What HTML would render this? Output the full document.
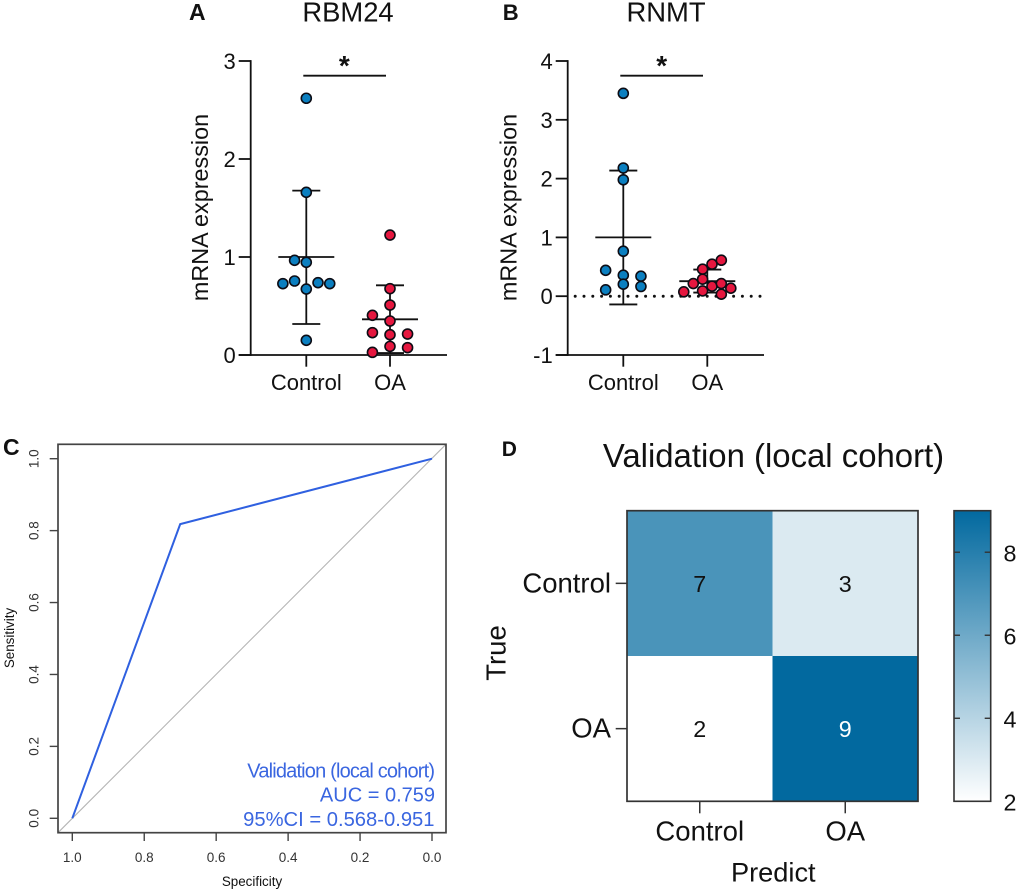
<!DOCTYPE html>
<html lang="en">
<head>
<meta charset="utf-8">
<title>RBM24 and RNMT expression with validation ROC and confusion matrix</title>
<style>
html,body{margin:0;padding:0;background:#fff;}
svg{display:block;}
text{font-family:"Liberation Sans",Arial,sans-serif;fill:#111;}
</style>
</head>
<body>
<svg id="fig" xmlns="http://www.w3.org/2000/svg" width="1020" height="894" viewBox="0 0 1020 894">
  <rect width="1020" height="894" fill="#fff"/>

  <g id="panelA">
    <text x="189" y="20" font-size="23" font-weight="bold">A</text>
    <text x="348" y="21.5" font-size="27.4" text-anchor="middle">RBM24</text>
    <text transform="translate(208,207.5) rotate(-90)" font-size="23.4" text-anchor="middle">mRNA expression</text>
    <line x1="303.3" x2="386" y1="75.7" y2="75.7" stroke="#111" stroke-width="1.8"/>
    <text x="344.3" y="75" font-size="28" text-anchor="middle" font-weight="bold">*</text>
  </g>

  <g id="panelB">
    <text x="502.7" y="20" font-size="22" font-weight="bold">B</text>
    <text x="666" y="21.5" font-size="27.4" text-anchor="middle">RNMT</text>
    <text transform="translate(516.7,207.5) rotate(-90)" font-size="23.4" text-anchor="middle">mRNA expression</text>
    <line x1="620.3" x2="703" y1="75.7" y2="75.7" stroke="#111" stroke-width="1.8"/>
    <text x="661.7" y="75" font-size="28" text-anchor="middle" font-weight="bold">*</text>
  </g>

  <g id="panelC">
    <text x="3" y="455" font-size="23" font-weight="bold">C</text>
    <text x="252" y="886" font-size="13.4" fill="#222" text-anchor="middle">Specificity</text>
    <text transform="translate(14,638) rotate(-90)" font-size="13.4" text-anchor="middle">Sensitivity</text>
    <text x="435" y="777.3" font-size="20" text-anchor="end" style="fill:#3a66e0" textLength="187.7" lengthAdjust="spacing">Validation (local cohort)</text>
    <text x="435" y="801.7" font-size="20" text-anchor="end" style="fill:#3a66e0">AUC = 0.759</text>
    <text x="434.5" y="826" font-size="20.2" text-anchor="end" style="fill:#3a66e0">95%CI = 0.568-0.951</text>
  </g>

  <g id="panelD">
    <text x="501.7" y="456" font-size="21" font-weight="bold">D</text>
    <text x="773.5" y="467" font-size="32.9" text-anchor="middle">Validation (local cohort)</text>
    <text x="773.3" y="881.7" font-size="27.2" text-anchor="middle">Predict</text>
    <text transform="translate(505.7,653) rotate(-90)" font-size="27.5" text-anchor="middle">True</text>
  </g>
</svg>

<script>
// Panel A: RBM24
const rbmControlValues = [2.62, 1.66, 0.966, 0.946, 0.728, 0.755, 0.673, 0.738, 0.728, 0.15];
const rbmControlJitter = [0, 0, -0.14, 0, -0.28, -0.14, 0, 0.14, 0.28, 0];
const rbmOaValues = [1.224, 0.677, 0.51, 0.405, 0.347, 0.228, 0.207, 0.214, 0.088, 0.075, 0.027];
const rbmOaJitter = [0, 0, 0, -0.21, 0, -0.21, 0, 0.21, 0, 0.21, -0.21];
const rbmMeans = [1.0, 0.364];
const rbmUpper = [1.677, 0.711];
const rbmLower = [0.316, 0.02];
const rbmTicks = [0, 1, 2, 3];

// Panel B: RNMT
const rnmtControlValues = [3.45, 2.18, 1.98, 0.765, 0.44, 0.357, 0.34, 0.204, 0.165, 0.108];
const rnmtControlJitter = [0, 0, 0, 0, -0.21, 0, 0.21, 0, 0.21, -0.21];
const rnmtOaValues = [0.074, 0.215, 0.459, 0.289, 0.09, 0.544, 0.17, 0.612, 0.215, 0.034, 0.136];
const rnmtOaJitter = [-0.28, -0.167, -0.056, -0.056, -0.056, 0.056, 0.056, 0.167, 0.167, 0.167, 0.28];
const rnmtMeans = [1.0, 0.255];
const rnmtUpper = [2.137, 0.453];
const rnmtLower = [-0.14, 0.062];
const rnmtTicks = [-1, 0, 1, 2, 3, 4];

const groupLabels = ['Control', 'OA'];

// Panel C: ROC
const rocSpecificity = [1.0, 0.7, 0.0];
const rocSensitivity = [0.0, 0.818, 1.0];
const rocTicks = [0, 0.2, 0.4, 0.6, 0.8, 1.0];

// Panel D: confusion matrix
const confusionRows = ['Control', 'OA'];
const confusionCols = ['Control', 'OA'];
const confusionCounts = [[7, 3], [2, 9]];
const colorbarTicks = [2, 4, 6, 8];
const colorMin = 2;
const colorMax = 9;

const NS = 'http://www.w3.org/2000/svg';
function make(tag, attrs, parent, txt) {
  const el = document.createElementNS(NS, tag);
  for (const k in attrs) el.setAttribute(k, attrs[k]);
  if (txt !== undefined) el.textContent = txt;
  parent.appendChild(el);
  return el;
}
function linear(d0, d1, r0, r1) {
  return function (v) { return r0 + (v - d0) * (r1 - r0) / (d1 - d0); };
}

function drawScatter(opts) {
  const g = document.getElementById(opts.group);
  const p = opts.prefix;
  const y = linear(opts.domain[0], opts.domain[1], 355, 61);
  const xc = linear(0, 1, opts.x0, opts.x1);
  const step = opts.x1 - opts.x0;
  const ink = '#111';
  const sw = 1.8;

  if (opts.baseline) {
    const dots = make('line', {x1: opts.axisX + 7.5, x2: opts.axisEnd, y1: y(0), y2: y(0), stroke: ink, 'stroke-width': 3, 'stroke-linecap': 'round', 'stroke-dasharray': '0 8.8'}, g);
    
    
  }

  const yAxis = make('line', {x1: opts.axisX, x2: opts.axisX, y1: 60.1, y2: 355.9, stroke: ink, 'stroke-width': sw}, g);
  
  

  const xAxis = make('line', {x1: opts.axisX - 12, x2: opts.axisEnd, y1: 355, y2: 355, stroke: ink, 'stroke-width': sw}, g);
  
  

  opts.ticks.forEach(function (t) {
    const tick = make('line', {x1: opts.axisX - 12, x2: opts.axisX, y1: y(t), y2: y(t), stroke: ink, 'stroke-width': sw}, g);
    
    
    const lab = make('text', {x: opts.axisX - 15, y: y(t) + 8, 'font-size': 22, 'text-anchor': 'end'}, g, String(t));
    
    
  });

  groupLabels.forEach(function (name, i) {
    const tick = make('line', {x1: xc(i), x2: xc(i), y1: 355, y2: 366.7, stroke: ink, 'stroke-width': sw}, g);
    
    
    const lab = make('text', {x: xc(i), y: 390, 'font-size': 22, 'text-anchor': 'middle'}, g, name);
    
    

    const stem = make('line', {x1: xc(i), x2: xc(i), y1: y(opts.upper[i]), y2: y(opts.lower[i]), stroke: ink, 'stroke-width': sw}, g);
    
    

    const mean = make('line', {x1: xc(i) - 28, x2: xc(i) + 28, y1: y(opts.means[i]), y2: y(opts.means[i]), stroke: ink, 'stroke-width': sw}, g);
    
    

    const capU = make('line', {x1: xc(i) - 14, x2: xc(i) + 14, y1: y(opts.upper[i]), y2: y(opts.upper[i]), stroke: ink, 'stroke-width': sw}, g);
    
    

    const capL = make('line', {x1: xc(i) - 14, x2: xc(i) + 14, y1: y(opts.lower[i]), y2: y(opts.lower[i]), stroke: ink, 'stroke-width': sw}, g);
    
    
  });

  opts.control.forEach(function (v, i) {
    const c = make('circle', {cx: xc(0) + opts.controlJitter[i] * step, cy: y(v), r: 5, fill: '#0b7fc0', stroke: '#0c0c14', 'stroke-width': 1.6}, g);
    
    
  });
  opts.oa.forEach(function (v, i) {
    const c = make('circle', {cx: xc(1) + opts.oaJitter[i] * step, cy: y(v), r: 5, fill: '#e5173f', stroke: '#0c0c14', 'stroke-width': 1.6}, g);
    
    
  });
}

drawScatter({group: 'panelA', prefix: 'rbm24', domain: [0, 3], axisX: 250.7, axisEnd: 447, x0: 306.3, x1: 390,
  ticks: rbmTicks, control: rbmControlValues, controlJitter: rbmControlJitter, oa: rbmOaValues, oaJitter: rbmOaJitter,
  means: rbmMeans, upper: rbmUpper, lower: rbmLower, baseline: false});

drawScatter({group: 'panelB', prefix: 'rnmt', domain: [-1, 4], axisX: 567.7, axisEnd: 764, x0: 623.3, x1: 707.3,
  ticks: rnmtTicks, control: rnmtControlValues, controlJitter: rnmtControlJitter, oa: rnmtOaValues, oaJitter: rnmtOaJitter,
  means: rnmtMeans, upper: rnmtUpper, lower: rnmtLower, baseline: true});

// ROC panel
(function () {
  const g = document.getElementById('panelC');
  const x = linear(1, 0, 72.3, 432);
  const y = linear(0, 1, 818.3, 458.7);
  const ink = '#444';

  const diag = make('line', {x1: 58, y1: 832.7, x2: 446, y2: 444.3, stroke: '#b5b5b5', 'stroke-width': 1.1}, g);
  
  

  const pts = rocSpecificity.map(function (s, i) { return x(s) + ',' + y(rocSensitivity[i]); }).join(' ');
  const curve = make('polyline', {points: pts, fill: 'none', stroke: '#2f60e0', 'stroke-width': 2}, g);
  
  

  const box = make('rect', {x: 58, y: 444.3, width: 388, height: 388.4, fill: 'none', stroke: ink, 'stroke-width': 1.7}, g);
  
  

  rocTicks.forEach(function (t) {
    const tx = make('line', {x1: x(t), x2: x(t), y1: 832.7, y2: 841, stroke: ink, 'stroke-width': 1.4}, g);
    
    
    const lx = make('text', {x: x(t), y: 862, 'font-size': 13.5, 'text-anchor': 'middle', style: 'fill:#333'}, g, t.toFixed(1));
    
    
    const ty = make('line', {x1: 49.7, x2: 58, y1: y(t), y2: y(t), stroke: ink, 'stroke-width': 1.4}, g);
    
    
    const ly = make('text', {transform: 'translate(38.3,' + y(t) + ') rotate(-90)', 'font-size': 13.5, 'text-anchor': 'middle', style: 'fill:#333'}, g, t.toFixed(1));
    
    
  });
})();

// Confusion matrix panel
(function () {
  const g = document.getElementById('panelD');
  const left = 627, right = 918, top = 510.7, bottom = 801.3;
  const cw = (right - left) / confusionCols.length;
  const ch = (bottom - top) / confusionRows.length;
  const ink = '#333';
  function color(v) {
    const f = (v - colorMin) / (colorMax - colorMin);
    const r = Math.round(255 + (2 - 255) * f);
    const gr = Math.round(255 + (105 - 255) * f);
    const b = Math.round(255 + (159 - 255) * f);
    return 'rgb(' + r + ',' + gr + ',' + b + ')';
  }

  confusionRows.forEach(function (rowName, r) {
    confusionCols.forEach(function (colName, c) {
      const v = confusionCounts[r][c];
      const cell = make('rect', {x: left + c * cw, y: top + r * ch, width: cw, height: ch, fill: color(v)}, g);
      
      
      const lab = make('text', {x: left + (c + 0.5) * cw, y: top + (r + 0.5) * ch + 8.4, 'font-size': 23.3, 'text-anchor': 'middle', style: v >= 8 ? 'fill:#fff' : 'fill:#111'}, g, String(v));
      
      
    });
    const cy = top + (r + 0.5) * ch;
    const tick = make('line', {x1: left - 11.3, x2: left, y1: cy, y2: cy, stroke: ink, 'stroke-width': 1.5}, g);
    
    
    const lab = make('text', {x: left - 16, y: cy + 9, 'font-size': 27.5, 'text-anchor': 'end'}, g, rowName);
    
    
  });

  confusionCols.forEach(function (colName, c) {
    const cx = left + (c + 0.5) * cw;
    const tick = make('line', {x1: cx, x2: cx, y1: bottom, y2: bottom + 12, stroke: ink, 'stroke-width': 1.5}, g);
    
    
    const lab = make('text', {x: cx, y: 840.7, 'font-size': 27.5, 'text-anchor': 'middle'}, g, colName);
    
    
  });

  const frame = make('rect', {x: left, y: top, width: right - left, height: bottom - top, fill: 'none', stroke: ink, 'stroke-width': 1.7}, g);
  
  

  // Colorbar
  const barL = 954, barR = 990.7;
  const cy = linear(colorMin, colorMax, bottom, top);
  const defs = make('defs', {}, g);
  const grad = make('linearGradient', {id: 'cbGrad', x1: 0, y1: 1, x2: 0, y2: 0}, defs);
  make('stop', {offset: 0, 'stop-color': color(colorMin)}, grad);
  make('stop', {offset: 1, 'stop-color': color(colorMax)}, grad);

  const bar = make('rect', {x: barL, y: top, width: barR - barL, height: bottom - top, fill: 'url(#cbGrad)', stroke: ink, 'stroke-width': 1.6}, g);
  
  

  colorbarTicks.forEach(function (t) {
    const y = cy(t);
    if (t > colorMin) {
      const tl = make('line', {x1: barL, x2: barL + 6, y1: y, y2: y, stroke: ink, 'stroke-width': 1.4}, g);
      
      
      const tr = make('line', {x1: barR - 6, x2: barR, y1: y, y2: y, stroke: ink, 'stroke-width': 1.4}, g);
      
      
    }
    const lab = make('text', {x: 1003.5, y: y + 9.2, 'font-size': 23.3}, g, String(t));
    
    
  });
})();
</script>
</body>
</html>
